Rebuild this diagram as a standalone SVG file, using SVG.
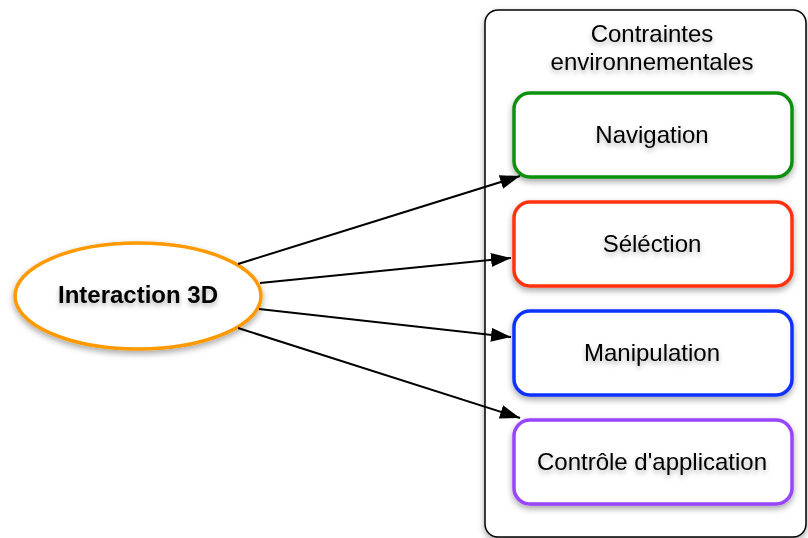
<svg xmlns="http://www.w3.org/2000/svg" width="808" height="538" viewBox="0 0 808 538">
<defs>
<filter id="sh" x="-20%" y="-20%" width="140%" height="150%">
<feDropShadow dx="0" dy="3" stdDeviation="3" flood-color="#000" flood-opacity="0.35"/>
</filter>
<filter id="tsh" x="-10%" y="-30%" width="120%" height="180%">
<feDropShadow dx="0" dy="3" stdDeviation="2.5" flood-color="#000" flood-opacity="0.3"/>
</filter>
<marker id="arr" markerUnits="userSpaceOnUse" markerWidth="21" markerHeight="15" refX="20" refY="7" orient="auto">
<path d="M0,0 L20,7 L0,14 z" fill="#000"/>
</marker>
</defs>
<style>
text{font-family:"Liberation Sans",Arial,sans-serif;font-size:24px;fill:#000;text-anchor:middle;filter:url(#tsh)}
.box{fill:#fff;stroke-width:3.5;filter:url(#sh)}
.edge{stroke:#000;stroke-width:2;fill:none;marker-end:url(#arr)}
</style>
<rect width="808" height="538" fill="#fff"/>
<g id="container">
<rect x="485" y="10" width="321" height="527" rx="13" fill="#fff" stroke="#000" stroke-width="1.5" filter="url(#sh)"/>
<text x="652" y="42">Contraintes</text>
<text x="652" y="70">environnementales</text>
</g>
<g id="interaction3d">
<ellipse cx="138" cy="296" rx="123" ry="53" class="box" stroke="#ff9900"/>
<text x="138" y="303" font-weight="bold">Interaction 3D</text>
</g>
<g id="navigation">
<rect x="514" y="93" width="278" height="84" rx="16" class="box" stroke="#119111"/>
<text x="652" y="143">Navigation</text>
</g>
<g id="selection">
<rect x="514" y="202" width="278" height="84" rx="16" class="box" stroke="#ff3311"/>
<text x="652" y="252">Séléction</text>
</g>
<g id="manipulation">
<rect x="514" y="311" width="278" height="84" rx="16" class="box" stroke="#1133ff"/>
<text x="652" y="361">Manipulation</text>
</g>
<g id="controle">
<rect x="514" y="420" width="278" height="84" rx="16" class="box" stroke="#9944ff"/>
<text x="652" y="470">Contrôle d'application</text>
</g>
<g id="connectors">
<line class="edge" x1="238" y1="264" x2="520" y2="176"/>
<line class="edge" x1="260" y1="283" x2="511" y2="258"/>
<line class="edge" x1="259" y1="309" x2="511" y2="337"/>
<line class="edge" x1="238" y1="328" x2="520" y2="418"/>
</g>
</svg>
